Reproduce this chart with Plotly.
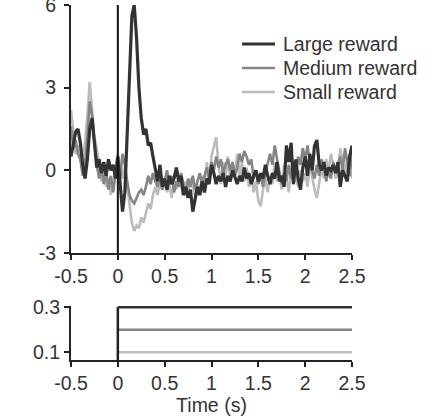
import numpy as np
import plotly.graph_objects as go

# ---------------- data ----------------
large_reward = [0.5, 0.9, 1.4, 1.5, 1.0, 0.2, -0.3, 0.4, 1.5, 1.9,
                1.0, 0.1, 0.4, -0.1, 0.3, -0.2, 0.4, 0.0, 0.2, -0.3,
                0.5, -0.6, -1.5, -0.8, 1.5, 3.8, 5.6, 6.0, 4.8, 3.0,
                1.9, 1.3, 1.5, 0.9, 1.0, 0.5, 0.0, -0.4, 0.2, -0.6,
                -0.3, -0.7, -0.2, -0.5, -0.3, 0.1, -0.4, -0.2, -0.9, -0.6,
                -1.0, -0.7, -1.5, -1.1, -0.6, -0.9, -0.4, -0.8, -0.3, -0.5,
                0.2, -0.1, -0.5, -0.2, -0.4, -0.1, -0.6, -0.2, -0.4, 0.0,
                -0.3, -0.5, -0.2, -0.4, 0.1, -0.3, -0.1, -0.5, -0.2, 0.0,
                -0.4, -0.1, -0.3, 0.2, -0.2, -0.5, -0.1, -0.3, 0.3, -0.4,
                -0.2, -0.6, 0.9, 0.3, 1.0, -0.5, 0.4, -0.3, -0.7, 0.1,
                0.5, -0.2, 0.6, 0.0, 0.9, 1.1, 0.2, 0.0, 0.3, -0.2,
                0.1, 0.0, 0.2, -0.1, 0.3, -0.6, 0.0, -0.2, -0.4, 0.5,
                0.9]
medium_reward = [1.6, 0.8, 1.1, 0.6, 0.4, -0.2, 0.3, 1.2, 2.5, 2.0,
                 1.0, 0.2, -0.3, 0.1, -0.5, 0.0, -0.7, -0.2, -0.8, -0.1,
                 0.3, -0.3, 0.6, 0.2, -0.4, -0.9, -1.1, -1.2, -1.0, -0.8,
                 -0.7, -0.9, -0.6, -0.2, -0.5, -0.1, -0.4, -0.6, -0.2, -0.7,
                 -0.4, 0.0, -0.5, -0.2, -0.8, -0.4, -0.6, -0.1, -0.5, -0.9,
                 -0.3, -0.6, -0.2, -0.7, -0.4, -0.1, -0.5, -0.2, 0.1, -0.3,
                 0.3, 0.0, 0.5, 0.1, 0.4, -0.1, 0.2, 0.4, 0.0, 0.3,
                 -0.2, 0.1, 0.6, 0.3, 0.7, 0.5, 0.2, 0.4, -0.3, 0.0,
                 -0.5, -0.2, -0.6, -0.1, 0.3, 0.6, 0.2, 0.9, 0.4, 0.0,
                 -0.5, -0.1, -0.4, 0.2, -0.3, 0.3, -0.2, 0.5, 0.2, 0.8,
                 0.4, 0.9, 0.3, 0.0, -0.3, 0.2, -0.2, 0.4, 0.1, -0.4,
                 0.0, -0.3, 0.3, -0.1, 0.2, 0.5, 0.0, 0.8, 0.3, -0.2,
                 0.6]
small_reward = [2.2, 1.5, 0.6, 0.9, 0.3, 0.5, 1.0, 2.0, 3.2, 2.2,
                1.2, 0.8, 0.2, -0.4, 0.0, -0.6, -0.3, -0.9, -0.4, 0.1,
                0.6, 0.2, -0.3, 0.1, -0.6, -1.4, -1.9, -2.2, -2.0, -2.1,
                -1.7, -1.9, -1.6, -1.2, -1.4, -0.9, -0.6, -0.9, -0.4, -0.7,
                -0.3, -0.8, -0.5, -1.0, -0.4, -0.7, -0.2, -0.6, -0.9, -0.4,
                -0.8, -0.3, -0.6, -0.9, -0.5, -0.8, -0.2, -0.6, 0.3, -0.4,
                0.5, 0.9, 1.2, 0.2, -0.5, 0.3, -0.2, 0.5, -0.3, 0.2,
                -0.1, 0.6, -0.2, 0.3, -0.4, 0.1, -0.6, -0.2, -0.8, -0.4,
                -1.1, -1.3, -0.7, -0.3, -0.8, -0.2, -0.5, 0.3, -0.4, -0.1,
                -0.7, 0.2, -0.3, -0.8, 0.1, -0.5, -0.2, -0.6, 0.0, -0.4,
                -0.1, -0.6, 0.2, -0.3, -0.7, -1.0, -0.4, 0.1, -0.3, 0.4,
                0.0, 0.6, 0.2, -0.3, 0.1, 0.8, 0.3, -0.2, 0.5, 0.1,
                -0.3]

series_names = ["Large reward", "Medium reward", "Small reward"]
reward_sizes = [0.3, 0.2, 0.1]          # bottom panel levels
t_start, t_end = -0.5, 2.5
x_tickvals = [-0.5, 0, 0.5, 1, 1.5, 2, 2.5]
x_ticktext = ["-0.5", "0", "0.5", "1", "1.5", "2", "2.5"]
y_tickvals = [-3, 0, 3, 6]
y_ticktext = ["-3", "0", "3", "6"]
y2_tickvals = [0.1, 0.3]
y2_ticktext = ["0.1", "0.3"]

# ---------------- style ----------------
colors = ["#333333", "#858585", "#bcbcbc"]
widths = [3.2, 2.6, 2.6]
FONT = "Liberation Sans, Arial, sans-serif"
FS = 19.5
TXT = "#333333"

W, H = 434, 419
left, right = 71, 82
top_px, top_bottom_px = 5, 253
bot_top_px, bot_axis_px = 306, 360
plot_w = W - left - right
plot_h = bot_axis_px - top_px
dom_top = [(bot_axis_px - top_bottom_px) / plot_h, 1.0]
dom_bot = [0.0, (bot_axis_px - bot_top_px) / plot_h]


def px_x(px):
    return (px - left) / plot_w


def px_y(py):
    return (bot_axis_px - py) / plot_h


fig = go.Figure()

data_series = [large_reward, medium_reward, small_reward]
# draw small first so large is on top
for k in [2, 1, 0]:
    vals = data_series[k]
    t = np.linspace(t_start, t_end, len(vals))
    fig.add_trace(go.Scatter(
        x=t, y=vals, mode="lines", name=series_names[k],
        line=dict(color=colors[k], width=widths[k]),
        xaxis="x", yaxis="y", showlegend=False))

# bottom panel: reward size levels
for k in [2, 1, 0]:
    fig.add_trace(go.Scatter(
        x=[0, t_end], y=[reward_sizes[k], reward_sizes[k]], mode="lines",
        line=dict(color=colors[k], width=2.5), xaxis="x2", yaxis="y2",
        showlegend=False, hoverinfo="skip"))

# bottom vertical step at t = 0
fig.add_trace(go.Scatter(
    x=[0, 0], y=[0.065, max(reward_sizes)], mode="lines",
    line=dict(color="#222222", width=2.5), xaxis="x2", yaxis="y2",
    showlegend=False, hoverinfo="skip"))

# top vertical line at t = 0
fig.add_shape(type="line", xref="x", yref="y", x0=0, x1=0, y0=-3, y1=6,
              line=dict(color="#111111", width=2))

# manual legend
legend_rows_px = [44, 68, 92]
for k, name in enumerate(series_names):
    yy = px_y(legend_rows_px[k])
    fig.add_shape(type="line", xref="paper", yref="paper",
                  x0=px_x(242), x1=px_x(275), y0=yy, y1=yy,
                  line=dict(color=colors[k], width=widths[k]))
    fig.add_annotation(x=px_x(281), y=yy, xref="paper", yref="paper",
                       text=name, showarrow=False, xanchor="left",
                       yanchor="middle",
                       font=dict(family=FONT, size=FS, color=TXT))

axis_common = dict(showgrid=False, zeroline=False, showline=True,
                   linecolor="#222222", linewidth=2, ticks="outside",
                   ticklen=5, tickwidth=1.5, tickcolor="#222222",
                   automargin=False, ticklabeloverflow="allow",
                   tickfont=dict(family=FONT, size=FS, color=TXT))

fig.update_layout(
    width=W, height=H,
    margin=dict(l=left, r=right, t=top_px, b=H - bot_axis_px),
    plot_bgcolor="white", paper_bgcolor="white",
    font=dict(family=FONT, size=FS, color=TXT),
    xaxis=dict(domain=[0, 1], anchor="y", range=[t_start, t_end],
               tickvals=x_tickvals, ticktext=x_ticktext, **axis_common),
    yaxis=dict(domain=dom_top, anchor="x", range=[-3, 6],
               tickvals=y_tickvals, ticktext=y_ticktext,
               ticklabelstandoff=4, **axis_common),
    xaxis2=dict(domain=[0, 1], anchor="y2", range=[t_start, t_end],
                tickvals=x_tickvals, ticktext=x_ticktext,
                title=dict(text="Time (s)", font=dict(family=FONT, size=FS, color=TXT),
                           standoff=4),
                **axis_common),
    yaxis2=dict(domain=dom_bot, anchor="x2", range=[0.065, 0.305],
                tickvals=y2_tickvals, ticktext=y2_ticktext, **axis_common),
    showlegend=False,
)

fig.write_html("out.html")
